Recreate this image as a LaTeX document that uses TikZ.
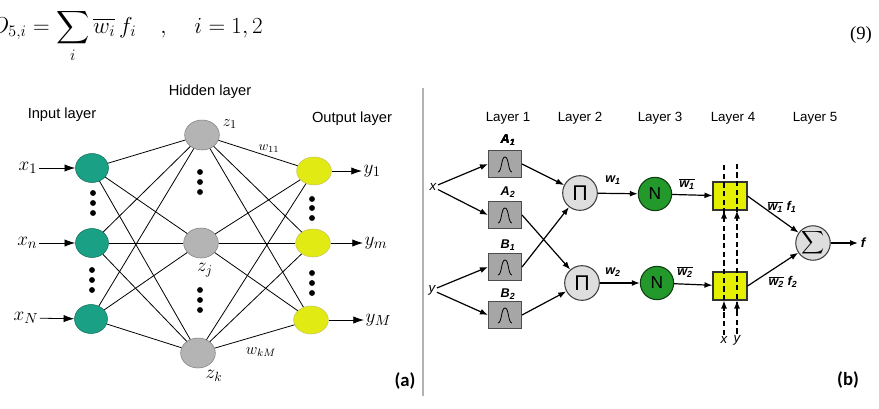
\documentclass[tikz,border=0pt]{standalone}
\usepackage{amsmath}
\usepackage{fontspec}
\setsansfont{Liberation Sans}
\newfontfamily\capfont{Carlito}
\newfontfamily\numfont{Liberation Serif}
\usetikzlibrary{arrows.meta,shapes.geometric,calc}
\definecolor{inputgreen}{HTML}{1AA084}
\definecolor{hiddengrey}{HTML}{B4B4B4}
\definecolor{outyellow}{HTML}{E2EA14}
\definecolor{normgreen}{HTML}{23982B}
\definecolor{ruleyellow}{HTML}{E4F000}
\definecolor{mfgrey}{HTML}{A6A6A6}
\definecolor{opgrey}{HTML}{DEDEDE}

% bell shaped membership curve inside a layer-1 box
\newcommand\bellcurve[1]{\draw[line width=0.6pt,shift={(#1.center)}] (-7,8) .. controls (-3,8) and (-4,-7) .. (0,-7) .. controls (4,-7) and (3,8) .. (7,8);}
\newcommand\bisub[2]{#1\textsubscript{#2}}
\newcommand\barred[1]{$\overline{\mbox{#1}}$}

\begin{document}
\begin{tikzpicture}[x=0.75pt,y=-0.75pt,
  arrl/.style={-{Latex[length=8pt,width=5.5pt]}, line width=0.6pt},
  arrr/.style={-{Latex[length=6pt,width=4.5pt]}, line width=0.9pt},
  inp/.style={ellipse, draw=inputgreen!70!black, fill=inputgreen, minimum width=24.75pt, minimum height=21.75pt, inner sep=0pt},
  hid/.style={ellipse, draw=gray, fill=hiddengrey, minimum width=26pt, minimum height=22.5pt, inner sep=0pt},
  outn/.style={ellipse, draw=olive!50, fill=outyellow, minimum width=26pt, minimum height=21pt, inner sep=0pt},
  mf/.style={rectangle, draw=black!70, fill=mfgrey, minimum width=24.75pt, minimum height=20.25pt, inner sep=0pt, line width=0.8pt},
  pinode/.style={circle, draw=black!75, fill=opgrey, minimum size=26pt, inner sep=0pt, line width=0.8pt},
  nrm/.style={circle, draw=black!60!normgreen, fill=normgreen, minimum size=25pt, inner sep=0pt, line width=0.8pt},
  l4box/.style={rectangle, draw=black!80, fill=ruleyellow, minimum width=25.5pt, minimum height=21pt, inner sep=0pt, line width=0.8pt},
  laytxt/.style={font=\sffamily\fontsize{11}{13}\selectfont},
  layr/.style={font=\sffamily\fontsize{10}{12}\selectfont},
  mlab/.style={font=\fontsize{15}{18}\selectfont, inner sep=1pt},
  blab/.style={font=\sffamily\fontsize{9.5}{10}\selectfont\bfseries\itshape, inner sep=1pt}]
\useasboundingbox (0,0) rectangle (879,408);

% equation line
\node[anchor=base east, font=\fontsize{18}{20}\selectfont, inner sep=0pt] (eq) at (263,33)
  {$O_{5,i} = \displaystyle\sum_i \overline{w_i}\, f_i \quad , \quad i = 1,2$};
\node[font=\numfont\fontsize{14}{16}\selectfont] (eqno) at (861,35) {(9)};

% (a) multilayer network
\node[laytxt] (tin) at (62,115) {Input layer};
\node[laytxt] (thid) at (210,92) {Hidden layer};
\node[laytxt] (tout) at (352,119) {Output layer};

\node[inp] (in1) at (92,168) {};
\node[inp] (in2) at (92,243) {};
\node[inp] (in3) at (91,319) {};
\node[hid] (h1) at (202,135) {};
\node[hid] (h2) at (201,243) {};
\node[hid] (h3) at (198,353) {};
\node[outn] (o1) at (314,171) {};
\node[outn] (o2) at (313,243) {};
\node[outn] (o3) at (311,320) {};

\foreach \i in {1,2,3}
  \foreach \j in {1,2,3} {
    \draw[line width=0.6pt] (in\i) -- (h\j);
    \draw[line width=0.6pt] (h\i) -- (o\j);
  }

\foreach \x/\y in {93/193,93/203,93/213,92/270,92/280,92/290,
                   200/172,200/182,200/192,200/290,200/300,200/310,
                   312/199,312/208,312/218,312/273,312/283,312/293}
  \fill (\x,\y) circle (2.2pt);

\node[mlab, anchor=east] (lx1) at (39,168) {$x_1$};
\node[mlab, anchor=east] (lx2) at (39,243) {$x_n$};
\node[mlab, anchor=east] (lx3) at (40,318) {$x_N$};
\draw[arrl] (lx1) -- (in1);
\draw[arrl] (lx2) -- (in2);
\draw[arrl] (lx3) -- (in3);

\node[mlab, anchor=west] (ly1) at (362,171) {$y_1$};
\node[mlab, anchor=west] (ly2) at (363,243) {$y_m$};
\node[mlab, anchor=west] (ly3) at (364,320) {$y_M$};
\draw[arrl] (o1) -- (ly1);
\draw[arrl] (o2) -- (ly2);
\draw[arrl] (o3) -- (ly3);

\node[font=\fontsize{13}{15}\selectfont] (lz1) at (230,124) {$z_1$};
\node[font=\fontsize{14}{16}\selectfont] (lz2) at (205,270) {$z_j$};
\node[font=\fontsize{14}{16}\selectfont] (lz3) at (214,376) {$z_k$};
\node[font=\fontsize{10}{12}\selectfont] (lw11) at (269,149) {$w_{11}$};
\node[font=\fontsize{12}{14}\selectfont] (lwkm) at (261,352) {$w_{kM}$};

\node[font=\capfont\bfseries\fontsize{14}{16}\selectfont] (capa) at (405,381) {(a)};
\draw[gray!60, line width=1.2pt] (423,88) -- (423,396);

% (b) ANFIS structure
\node[layr] (lay1) at (508,118) {Layer 1};
\node[layr] (lay2) at (580,118) {Layer 2};
\node[layr] (lay3) at (660,118) {Layer 3};
\node[layr] (lay4) at (733,118) {Layer 4};
\node[layr] (lay5) at (815,118) {Layer 5};

\node[mf] (A1) at (505,164) {};
\node[mf] (A2) at (505,215) {};
\node[mf] (B1) at (505,267) {};
\node[mf] (B2) at (505,315) {};
\foreach \m in {A1,A2,B1,B2} \bellcurve{\m}
\node[blab] (lA1) at (508,140) {\bisub{A}{1}};
\node[blab] (lA2) at (508,192) {\bisub{A}{2}};
\node[blab] (lB1) at (508,245) {\bisub{B}{1}};
\node[blab] (lB2) at (508,294) {\bisub{B}{2}};

\node[font=\sffamily\itshape\fontsize{10}{12}\selectfont, inner sep=1pt] (xin) at (433,187) {x};
\node[font=\sffamily\itshape\fontsize{10}{12}\selectfont, inner sep=1pt] (yin) at (432,290) {y};
\draw[arrr] (xin) -- (A1.west);
\draw[arrr] (xin) -- (A2.west);
\draw[arrr] (yin) -- (B1.west);
\draw[arrr] (yin) -- (B2.west);

\node[pinode, font=\sffamily\fontsize{16}{16}\selectfont] (P1) at (580,193) {Π};
\node[pinode, font=\sffamily\fontsize{16}{16}\selectfont] (P2) at (582,283) {Π};
\draw[arrr] (A1.east) -- (P1);
\draw[arrr] (B1.east) -- (P1);
\draw[arrr] (A2.east) -- (P2);
\draw[arrr] (B2.east) -- (P2);

\node[nrm, font=\sffamily\fontsize{13}{13}\selectfont] (N1) at (655,194) {N};
\node[nrm, font=\sffamily\fontsize{13}{13}\selectfont] (N2) at (657,283) {N};
\draw[arrr] (P1) -- (N1);
\draw[arrr] (P2) -- (N2);
\node[blab] (lw1) at (613,180) {\bisub{w}{1}};
\node[blab] (lw2) at (613,272) {\bisub{w}{2}};

\node[l4box] (L4a) at (730,196) {};
\node[l4box] (L4b) at (730,286) {};
\draw[arrr] (N1) -- (L4a);
\draw[arrr] (N2) -- (L4b);
\node[blab] (lnw1) at (687,184) {\barred{\bisub{w}{1}}};
\node[blab] (lnw2) at (685,272) {\barred{\bisub{w}{2}}};

\node[font=\sffamily\itshape\fontsize{10}{12}\selectfont, inner sep=1pt] (xl4) at (724,340) {x};
\node[font=\sffamily\itshape\fontsize{10}{12}\selectfont, inner sep=1pt] (yl4) at (737,340) {y};
\coordinate (xtop) at (724,162);
\coordinate (ytop) at (737,162);
\foreach \c in {xl4,yl4} {
  \draw[line width=0.9pt, dash pattern=on 4pt off 2.5pt] (\c.north) -- (\c |- xtop);
  \draw[arrr] ($(\c |- L4b.south)+(0,10)$) -- (\c |- L4b.south);
  \draw[arrr] ($(\c |- L4a.south)+(0,10)$) -- (\c |- L4a.south);
}

\node[pinode, minimum size=24pt, font=\fontsize{12}{12}\selectfont] (S) at (813,243) {$\displaystyle\sum$};
\draw[arrr] (L4a.east) -- (S);
\draw[arrr] (L4b.east) -- (S);
\node[blab] (lwf1) at (782,207) {\barred{\bisub{w}{1}} \bisub{f}{1}};
\node[blab] (lwf2) at (783,282) {\barred{\bisub{w}{2}} \bisub{f}{2}};
\node[font=\sffamily\itshape\bfseries\fontsize{10}{12}\selectfont, anchor=west, inner sep=2pt] (flab) at (858,243) {f};
\draw[arrr] (S) -- (flab);

\node[font=\capfont\bfseries\fontsize{14}{16}\selectfont] (capb) at (848,380) {(b)};
\end{tikzpicture}
\end{document}
